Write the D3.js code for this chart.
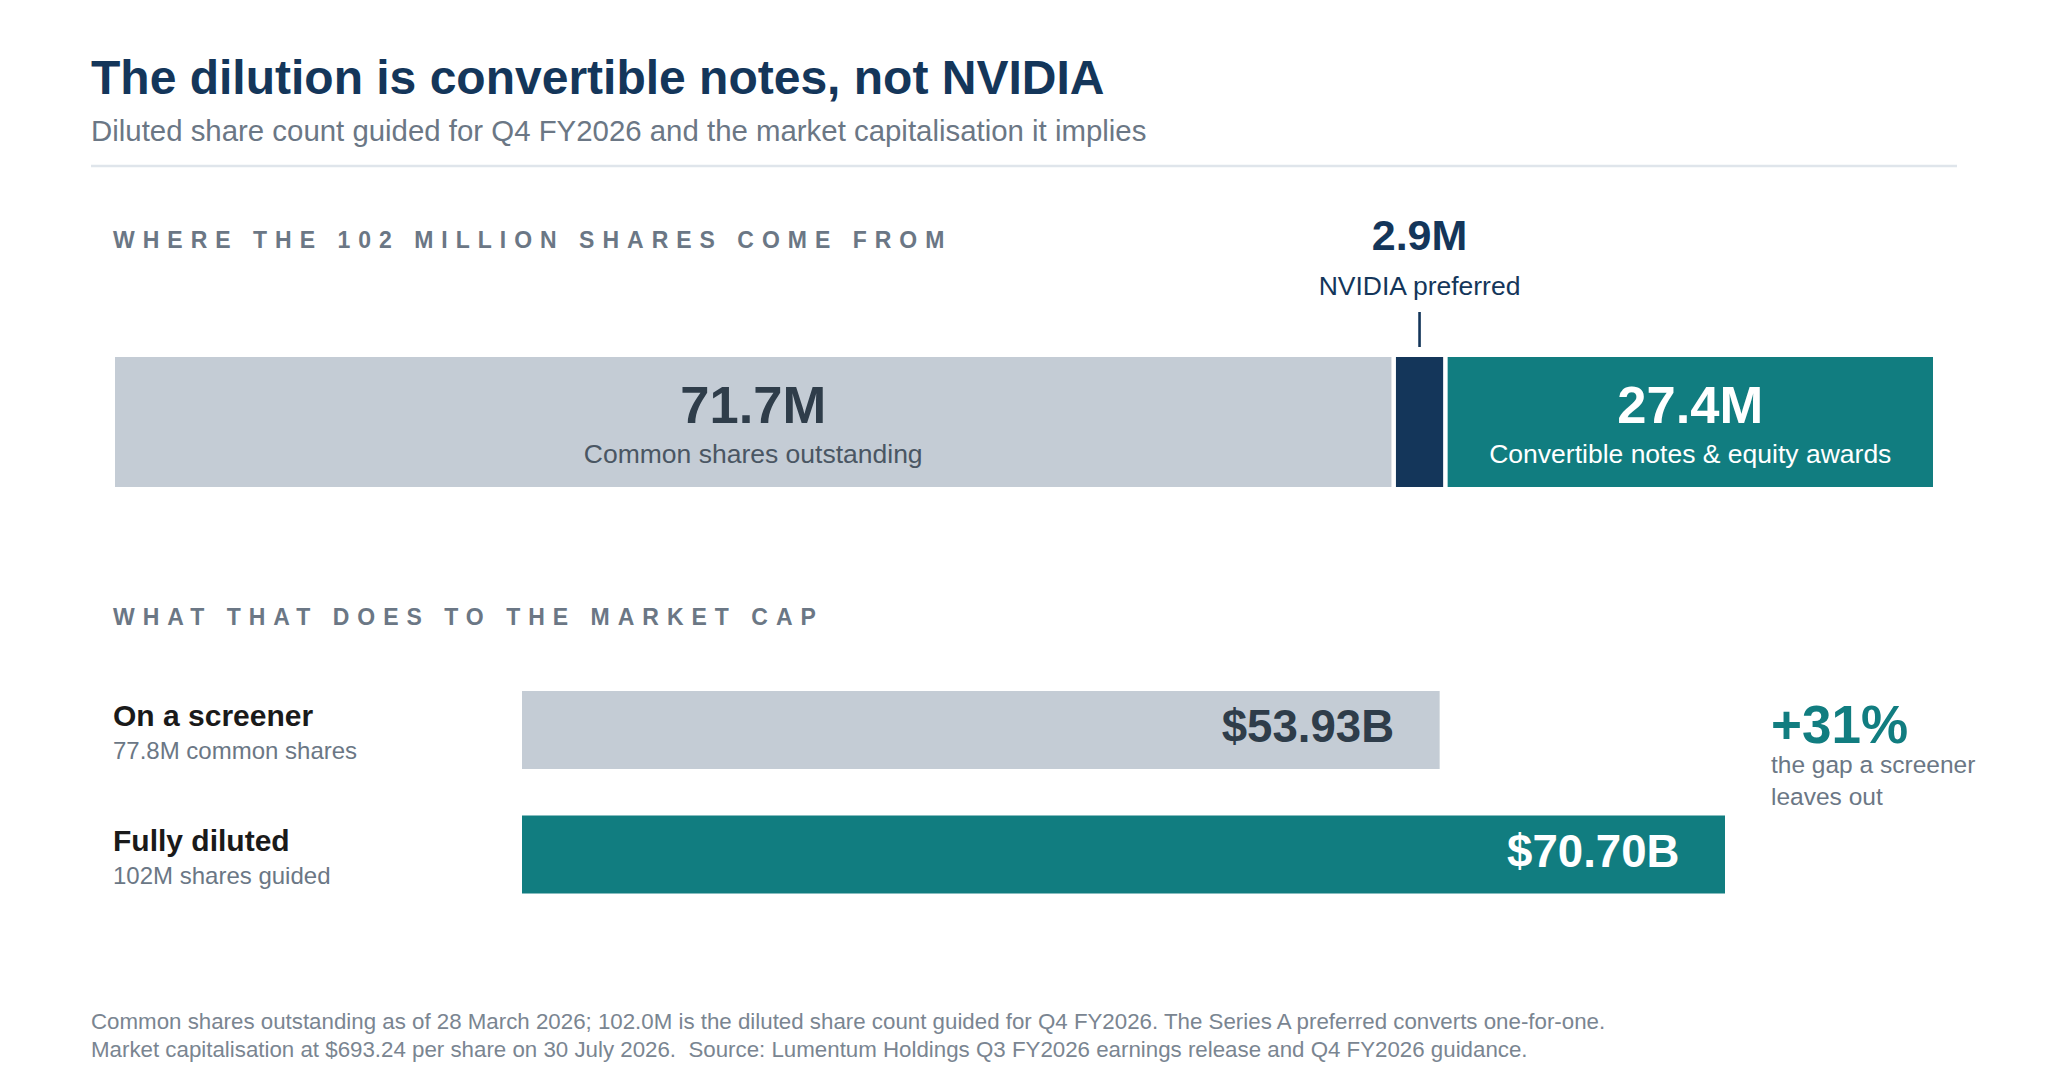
<!DOCTYPE html>
<html>
<head>
<meta charset="utf-8">
<script src="https://cdn.jsdelivr.net/npm/d3@7/dist/d3.min.js"></script>
<style>
  html, body { margin: 0; padding: 0; background: #ffffff; }
  svg { display: block; font-family: "Liberation Sans", Arial, Helvetica, sans-serif; }
  text { white-space: pre; }
</style>
</head>
<body>
<svg id="chart" width="2048" height="1075"></svg>
<script>
// ---- data ----
const titleText = "The dilution is convertible notes, not NVIDIA";
const subtitleText = "Diluted share count guided for Q4 FY2026 and the market capitalisation it implies";
const section1Label = "WHERE THE 102 MILLION SHARES COME FROM";
const section2Label = "WHAT THAT DOES TO THE MARKET CAP";

const shareSegments = ["Common shares outstanding", "NVIDIA preferred", "Convertible notes & equity awards"];
const shareValues = [71.7, 2.9, 27.4];
const shareValueLabels = ["71.7M", "2.9M", "27.4M"];
const shareTotal = 102.0;

const capCategories = ["On a screener", "Fully diluted"];
const capSubLabels = ["77.8M common shares", "102M shares guided"];
const capValues = [53.93, 70.70];
const capValueLabels = ["$53.93B", "$70.70B"];
const gapLabel = "+31%";
const gapNote = ["the gap a screener", "leaves out"];

const footnotes = [
  "Common shares outstanding as of 28 March 2026; 102.0M is the diluted share count guided for Q4 FY2026. The Series A preferred converts one-for-one.",
  "Market capitalisation at $693.24 per share on 30 July 2026.  Source: Lumentum Holdings Q3 FY2026 earnings release and Q4 FY2026 guidance."
];

// ---- styles ----
const C = {
  navy: "#14365a", teal: "#117d80", gray: "#c4ccd5", slate: "#2f3d4a",
  muted: "#6b7785", rule: "#dfe5eb", ink: "#1a1a1a", foot: "#7a8591", segText: "#4a5663"
};

const svg = d3.select("#chart");

// header
svg.append("text").attr("x", 91).attr("y", 94)
  .attr("font-size", 48).attr("font-weight", 700).attr("fill", C.navy).text(titleText);
svg.append("text").attr("x", 91).attr("y", 141)
  .attr("font-size", 29.4).attr("fill", C.muted).text(subtitleText);
svg.append("line").attr("x1", 91).attr("x2", 1957).attr("y1", 166).attr("y2", 166)
  .attr("stroke", C.rule).attr("stroke-width", 2.6);

// section labels
function sectionLabel(txt, y) {
  svg.append("text").attr("x", 113).attr("y", y)
    .attr("font-size", 23).attr("font-weight", 700).attr("fill", C.muted)
    .attr("letter-spacing", "8px").text(txt);
}
sectionLabel(section1Label, 248);
sectionLabel(section2Label, 625);

// ---- stacked share bar ----
const xs = d3.scaleLinear().domain([0, shareTotal]).range([115, 1933]);
const segColors = [C.gray, C.navy, C.teal];
let cum = 0;
const segs = shareValues.map((v, i) => {
  const s = { i, start: cum, end: cum + v, v };
  cum += v;
  return s;
});
const barTop = 357, barH = 130;
const segX0 = d => xs(d.start) + (d.i > 0 ? 3 : 0);
const segX1 = d => xs(d.end) - (d.i < segs.length - 1 ? 1.5 : 0);
const segMid = d => (segX0(d) + segX1(d)) / 2;

svg.append("g").selectAll("rect").data(segs).join("rect")
  .attr("x", segX0)
  .attr("y", barTop)
  .attr("width", d => segX1(d) - segX0(d))
  .attr("height", barH)
  .attr("fill", d => segColors[d.i]);

// in-bar labels for wide segments
[0, 2].forEach(i => {
  const d = segs[i];
  svg.append("text").attr("x", segMid(d)).attr("y", 423).attr("text-anchor", "middle")
    .attr("font-size", 52.5).attr("font-weight", 700).attr("fill", i === 0 ? C.slate : "#ffffff")
    .text(shareValueLabels[i]);
  svg.append("text").attr("x", segMid(d)).attr("y", 463).attr("text-anchor", "middle")
    .attr("font-size", 26.5).attr("fill", i === 0 ? C.segText : "#ffffff").text(shareSegments[i]);
});
// callout for the thin segment
{
  const d = segs[1];
  const cx = segMid(d);
  svg.append("text").attr("x", cx).attr("y", 250).attr("text-anchor", "middle")
    .attr("font-size", 43).attr("font-weight", 700).attr("fill", C.navy).text(shareValueLabels[1]);
  svg.append("text").attr("x", cx).attr("y", 295).attr("text-anchor", "middle")
    .attr("font-size", 26.5).attr("fill", C.navy).text(shareSegments[1]);
  svg.append("line").attr("x1", cx).attr("x2", cx).attr("y1", 312).attr("y2", 347)
    .attr("stroke", C.navy).attr("stroke-width", 2.6);
}

// ---- market cap bars ----
const xc = d3.scaleLinear().domain([0, capValues[1]]).range([522, 1725]);
const yc = d3.scaleBand().domain(capCategories).range([691, 893.5])
  .paddingInner(46.5 / 124.5).paddingOuter(0);
const capColors = [C.gray, C.teal];
const capTextColors = [C.slate, "#ffffff"];

const rows = svg.append("g").selectAll("g").data(capCategories).join("g");
rows.append("rect")
  .attr("x", xc(0)).attr("y", d => yc(d))
  .attr("width", (d, i) => xc(capValues[i]) - xc(0))
  .attr("height", yc.bandwidth())
  .attr("fill", (d, i) => capColors[i]);
rows.append("text")
  .attr("x", (d, i) => xc(capValues[i]) - 45.5)
  .attr("y", d => yc(d) + yc.bandwidth() / 2 + 12)
  .attr("text-anchor", "end").attr("font-size", 45.6).attr("font-weight", 700)
  .attr("fill", (d, i) => capTextColors[i])
  .text((d, i) => capValueLabels[i]);
rows.append("text").attr("x", 113).attr("y", d => yc(d) + 35)
  .attr("font-size", 30).attr("font-weight", 700).attr("fill", C.ink).text(d => d);
rows.append("text").attr("x", 113).attr("y", d => yc(d) + 68)
  .attr("font-size", 24).attr("fill", C.muted).text((d, i) => capSubLabels[i]);

// gap annotation
svg.append("text").attr("x", 1771).attr("y", 743)
  .attr("font-size", 53).attr("font-weight", 700).attr("fill", C.teal).text(gapLabel);
svg.append("text").attr("x", 1771).attr("y", 773).attr("font-size", 24.5).attr("fill", C.muted)
  .selectAll("tspan").data(gapNote).join("tspan")
  .attr("x", 1771).attr("dy", (d, i) => i === 0 ? 0 : 32).text(d => d);

// footnotes
svg.append("g").selectAll("text").data(footnotes).join("text")
  .attr("x", 91).attr("y", (d, i) => 1029 + i * 28)
  .attr("font-size", 22.3).attr("fill", C.foot).text(d => d);
</script>
</body>
</html>
